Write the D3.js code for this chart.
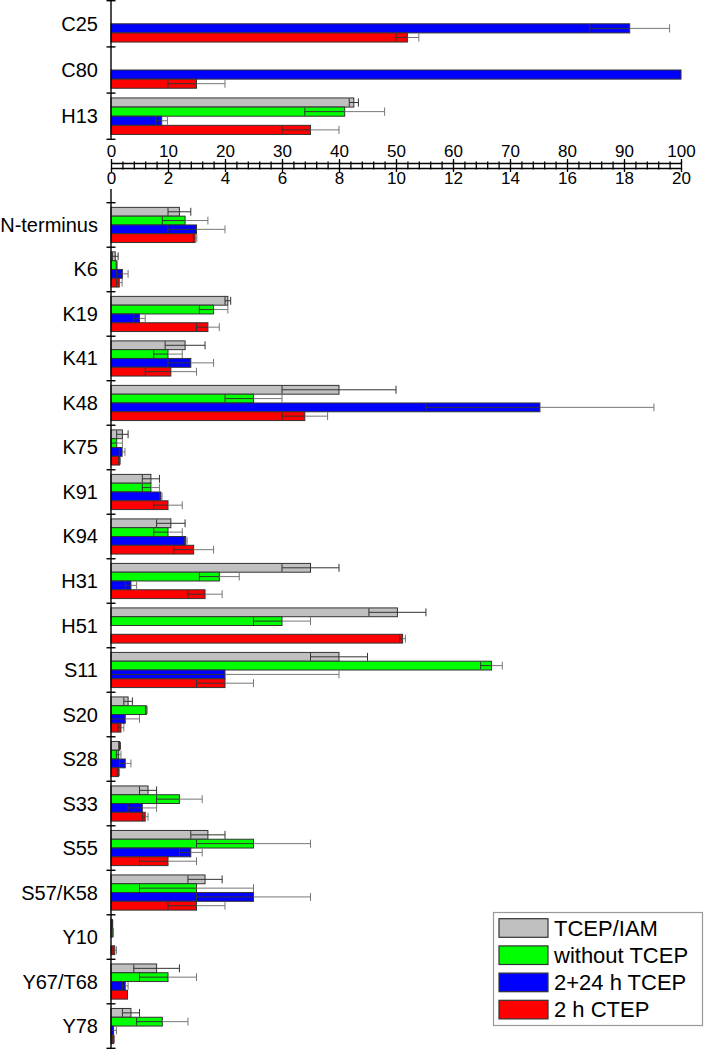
<!DOCTYPE html>
<html><head><meta charset="utf-8">
<script src="https://cdn.jsdelivr.net/npm/d3@7"></script>
<style>body{margin:0;background:#fff}svg{display:block}text{font-family:"Liberation Sans",Arial,Helvetica,sans-serif}</style>
</head><body><svg id="c" width="704" height="1050"></svg>
<script>
const seriesNames = ["TCEP/IAM", "without TCEP", "2+24 h TCEP", "2 h CTEP"];
const seriesColors = ["#c0c0c0", "#00ff00", "#0000ff", "#ff0000"];

const topCategories = ["C25", "C80", "H13"];
const topTCEP    = [null, null, 42.6];
const topTCEPErr = [0, 0, 0.8];
const topWithout    = [null, null, 41];
const topWithoutErr = [0, 0, 7];
const top2p24    = [91, 100, 8.9];
const top2p24Err = [7, 0, 1];
const top2h    = [52, 15, 35];
const top2hErr = [2, 5, 5];

const bottomCategories = ["N-terminus","K6","K19","K41","K48","K75","K91","K94","H31","H51","S11","S20","S28","S33","S55","S57/K58","Y10","Y67/T68","Y78"];
const botTCEP    = [2.4, 0.15, 4.1, 2.6, 8.0, 0.4, 1.4, 2.1, 7.0, 10.05, 8.0, 0.6, 0.3, 1.3, 3.4, 3.3, 0.05, 1.6, 0.7];
const botTCEPErr = [0.4, 0.1, 0.1, 0.7, 2.0, 0.2, 0.3, 0.5, 1.0, 1.0, 1.0, 0.15, 0.03, 0.3, 0.6, 0.6, 0.01, 0.8, 0.3];
const botWithout    = [2.6, 0.2, 3.6, 2.0, 5.0, 0.2, 1.4, 2.0, 3.8, 6.0, 13.35, 1.24, 0.27, 2.4, 5.0, 3.0, 0.07, 2.0, 1.8];
const botWithoutErr = [0.8, 0.02, 0.5, 0.5, 1.0, 0.2, 0.3, 0.5, 0.7, 1.0, 0.38, 0.03, 0.08, 0.8, 2.0, 2.0, 0.01, 1.0, 0.9];
const bot2p24    = [3.0, 0.4, 1.0, 2.8, 15.05, 0.39, 1.75, 2.62, 0.7, null, 4.0, 0.5, 0.5, 1.1, 2.8, 5.0, null, 0.5, 0.09];
const bot2p24Err = [1.0, 0.2, 0.2, 0.8, 4.0, 0.1, 0.04, 0.05, 0.2, 0, 4.0, 0.5, 0.2, 0.5, 0.4, 2.0, 0, 0.1, 0.1];
const bot2h    = [2.95, 0.29, 3.4, 2.1, 6.8, 0.3, 2.0, 2.9, 3.3, 10.23, 4.0, 0.35, 0.26, 1.2, 2.0, 3.0, 0.13, 0.58, 0.09];
const bot2hErr = [0.06, 0.1, 0.4, 0.9, 0.8, 0.03, 0.5, 0.7, 0.6, 0.1, 1.0, 0.1, 0.04, 0.1, 1.0, 1.0, 0.06, 0, 0.03];

const topTicks = [0, 10, 20, 30, 40, 50, 60, 70, 80, 90, 100];
const bottomTicks = [0, 2, 4, 6, 8, 10, 12, 14, 16, 18, 20];

const svg = d3.select("#c");
const X0 = 111, X1 = 681;
const xTop = d3.scaleLinear().domain([0, 100]).range([X0, X1]);
const xBot = d3.scaleLinear().domain([0, 20]).range([X0, X1]);
const yTop = d3.scaleBand().domain(topCategories).range([0.7, 139.3]);
const yBot = d3.scaleBand().domain(bottomCategories).range([202.7, 1048.3]);

function drawPanel(cats, yScale, xScale, vals, errs, axisTopY) {
  const g = svg.append("g");
  const bw = yScale.bandwidth();
  const ySub = d3.scaleBand().domain(d3.range(4)).range([0.105 * bw, 0.895 * bw]);
  const bh = ySub.bandwidth();
  const recs = [];
  vals.forEach((arr, s) => arr.forEach((v, i) => {
    if (v == null) return;
    recs.push({s, c: cats[i], v, e: errs[s][i]});
  }));
  g.selectAll("rect.bar").data(recs).join("rect").attr("class", "bar")
    .attr("x", xScale(0)).attr("y", d => yScale(d.c) + ySub(d.s))
    .attr("width", d => xScale(d.v) - xScale(0)).attr("height", bh)
    .attr("fill", d => seriesColors[d.s]).attr("stroke", "#333").attr("stroke-width", 1);
  const eb = g.selectAll("g.err").data(recs.filter(d => d.e > 0)).join("g").attr("class", "err");
  const cy = d => yScale(d.c) + ySub(d.s) + bh / 2;
  const capH = bh * 0.45;
  eb.append("line").attr("x1", d => xScale(Math.max(0, d.v - d.e))).attr("x2", d => xScale(d.v))
    .attr("y1", cy).attr("y2", cy).attr("stroke", "#333").attr("stroke-width", 1);
  eb.append("line").attr("x1", d => xScale(d.v)).attr("x2", d => xScale(d.v + d.e))
    .attr("y1", cy).attr("y2", cy).attr("stroke", d => d.s === 0 ? "#333" : "#777").attr("stroke-width", 1);
  eb.append("line").attr("x1", d => xScale(Math.max(0, d.v - d.e))).attr("x2", d => xScale(Math.max(0, d.v - d.e)))
    .attr("y1", d => cy(d) - capH).attr("y2", d => cy(d) + capH).attr("stroke", "#333").attr("stroke-width", 1);
  eb.append("line").attr("x1", d => xScale(d.v + d.e)).attr("x2", d => xScale(d.v + d.e))
    .attr("y1", d => cy(d) - capH).attr("y2", d => cy(d) + capH).attr("stroke", d => d.s === 0 ? "#333" : "#777").attr("stroke-width", 1);

  // category axis
  const r = yScale.range();
  g.append("line").attr("x1", X0).attr("x2", X0).attr("y1", axisTopY).attr("y2", r[1])
    .attr("stroke", "#000").attr("stroke-width", 1.4);
  const bounds = cats.map(c => yScale(c)).concat([r[1]]);
  g.selectAll("line.tk").data(bounds).join("line").attr("class", "tk")
    .attr("x1", X0 - 4.5).attr("x2", X0 + 4.5).attr("y1", d => d).attr("y2", d => d)
    .attr("stroke", "#000").attr("stroke-width", 1.4);
  g.selectAll("text.cat").data(cats).join("text").attr("class", "cat")
    .attr("x", 98).attr("y", c => yScale(c) + bw / 2).attr("dy", "0.35em")
    .attr("text-anchor", "end").attr("font-size", 20).attr("fill", "#000").text(c => c);
}

drawPanel(topCategories, yTop, xTop,
  [topTCEP, topWithout, top2p24, top2h], [topTCEPErr, topWithoutErr, top2p24Err, top2hErr], 0);
drawPanel(bottomCategories, yBot, xBot,
  [botTCEP, botWithout, bot2p24, bot2h], [botTCEPErr, botWithoutErr, bot2p24Err, bot2hErr], 189);

// double value axis
const gA = svg.append("g").attr("transform", "translate(0,163)")
  .call(d3.axisTop(xTop).tickValues(topTicks).tickSize(4).tickSizeOuter(0).tickPadding(2));
const gB = svg.append("g").attr("transform", "translate(0,168)")
  .call(d3.axisBottom(xBot).tickValues(bottomTicks).tickSize(4).tickSizeOuter(0).tickPadding(0));
const gM = svg.append("g").attr("transform", "translate(0,161.5)")
  .call(d3.axisBottom(xTop).tickValues(d3.range(0, 101, 2)).tickSize(8).tickFormat(""));
gM.select(".domain").remove();
[gA, gB, gM].forEach(g => {
  g.selectAll("path,line").attr("stroke", "#000").attr("stroke-width", 1.3);
  g.selectAll("text").attr("font-size", 17).attr("fill", "#000")
    .style("font-family", '"Liberation Sans",Arial,sans-serif');
});

// legend
const lg = svg.append("g");
lg.append("rect").attr("x", 493.5).attr("y", 912.5).attr("width", 209).attr("height", 113)
  .attr("fill", "#fff").attr("stroke", "#999").attr("stroke-width", 1.2);
const li = lg.selectAll("g.li").data(seriesNames).join("g").attr("class", "li")
  .attr("transform", (d, i) => `translate(499,${918.7 + i * 27.2})`);
li.append("rect").attr("width", 49).attr("height", 18.6)
  .attr("fill", (d, i) => seriesColors[i]).attr("stroke", "#333").attr("stroke-width", 1.2);
li.append("text").attr("x", 55).attr("y", 9.3).attr("dy", "0.35em")
  .attr("font-size", 22).attr("fill", "#000").text(d => d);
</script></body></html>
